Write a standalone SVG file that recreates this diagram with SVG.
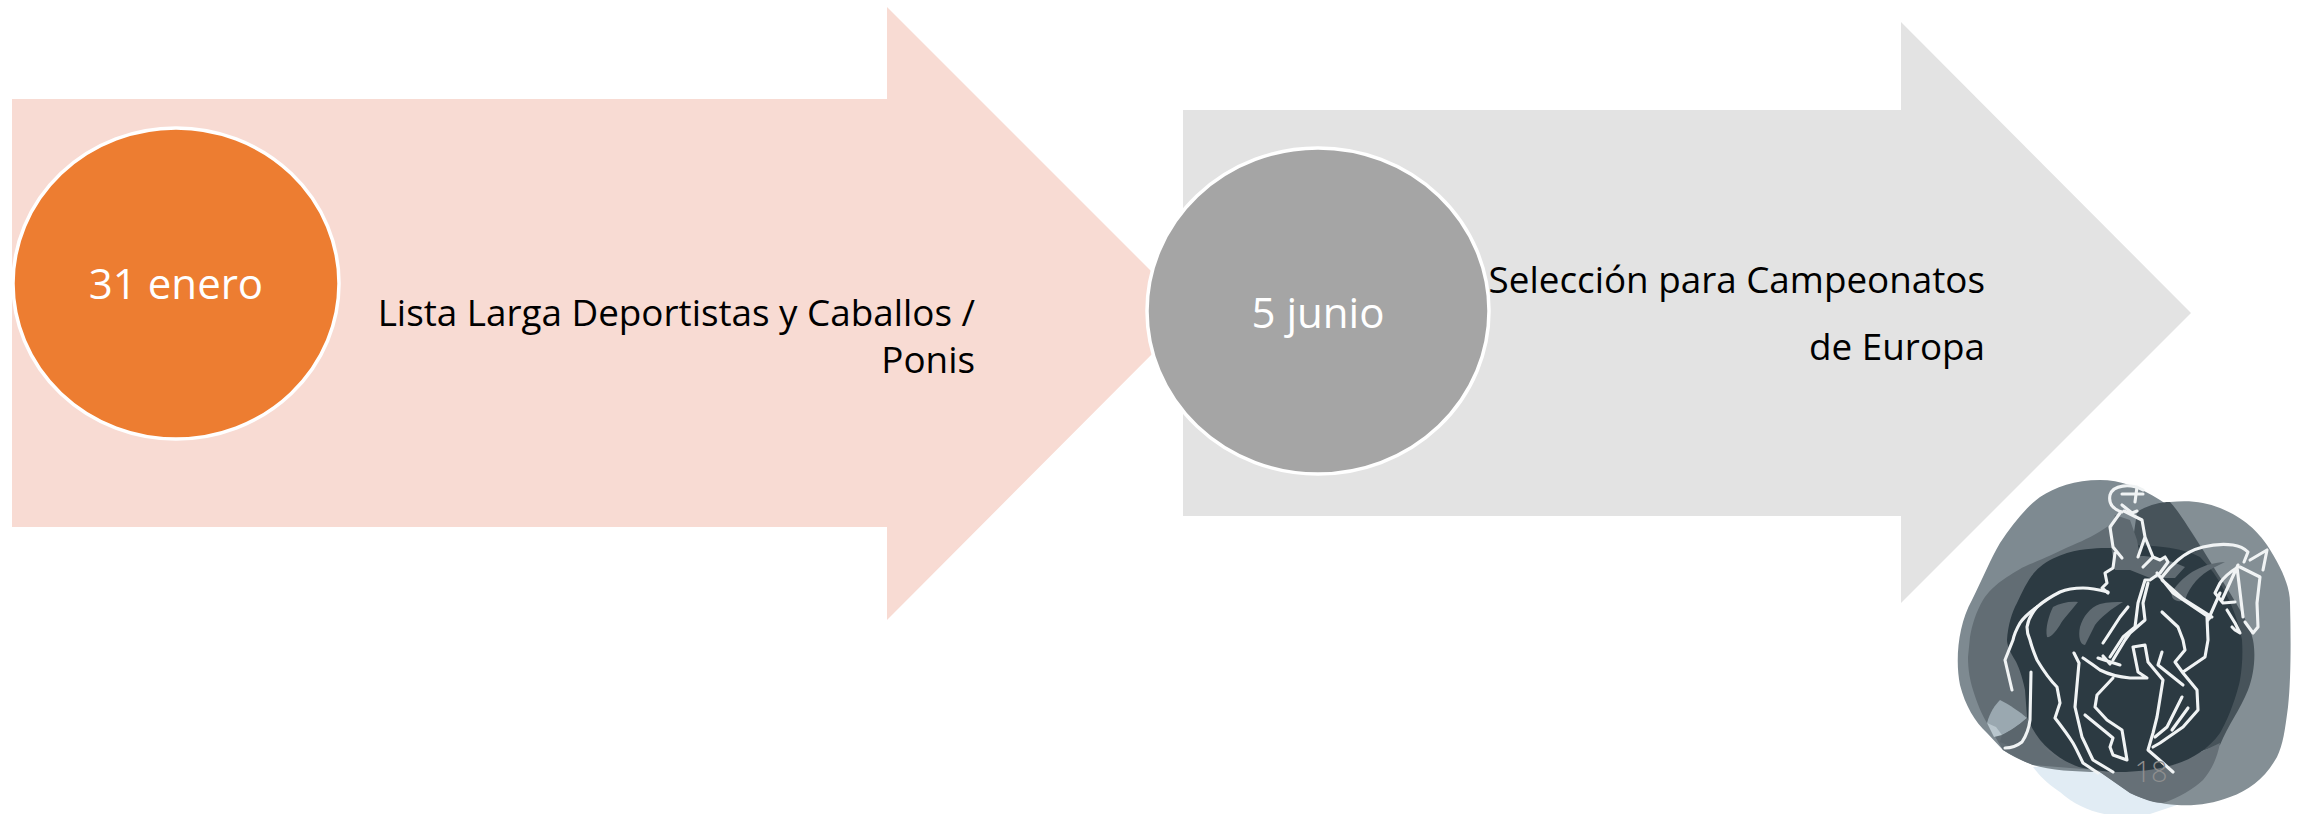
<svg xmlns="http://www.w3.org/2000/svg" width="2305" height="814" viewBox="0 0 2305 814">
<style>
text{font-family:"Open Sans","Noto Sans","Liberation Sans",sans-serif}
.d{fill:#fff;font-size:42px;text-anchor:middle}
.t{fill:#000;font-size:36.8px;text-anchor:end}
.c{stroke:#fff;stroke-width:3.5}
.h{fill:none;stroke:#f0f3f4;stroke-width:3.1;stroke-linecap:round;stroke-linejoin:round}
.m{fill:#5f6a71}
</style>
<rect width="2305" height="814" fill="#fff"/>
<g id="arrow-1"><path d="M12,99H887V7L1193,313L887,620V527H12Z" fill="#f8dbd3"/></g>
<g id="arrow-2"><path d="M1183,110H1901V22L2191,313L1901,603V516H1183Z" fill="#e3e3e3"/></g>
<g id="node-1">
<ellipse class="c" cx="176" cy="283.5" rx="163" ry="155.5" fill="#ed7d31"/>
<text class="d" x="176" y="299">31 enero</text>
<text class="t" x="975" y="326">Lista Larga Deportistas y Caballos /</text>
<text class="t" x="975" y="373">Ponis</text>
</g>
<g id="node-2">
<ellipse class="c" cx="1318" cy="311" rx="171" ry="163" fill="#a5a5a5"/>
<text class="d" x="1318" y="328">5 junio</text>
<text class="t" x="1985" y="293">Selección para Campeonatos</text>
<text class="t" x="1985" y="360">de Europa</text>
</g>
<g id="logo">
<path fill="#e1ecf4" d="M2033,767C2043,780 2050,785 2060,792C2075,805 2090,812 2110,815H2147L2177,805L2120,760Z"/>
<path fill="#848f95" d="M2170,502C2190,500 2205,502 2220,508C2245,518 2258,532 2267,545C2280,565 2290,585 2290,603C2291,640 2291,680 2288,707C2285,730 2283,745 2277,757C2265,778 2250,790 2230,797C2212,804 2195,806 2177,805C2160,804 2145,800 2130,793L2097,770L2050,740L2120,560Z"/>
<path fill="#7e8a91" d="M2100,480C2120,480 2140,487 2160,500C2175,510 2187,522 2203,550C2215,570 2230,590 2240,620L2245,660L2215,745L2173,768L2100,772C2075,772 2050,770 2033,765C2020,760 2010,755 2003,750L1987,733C1975,722 1965,705 1960,685C1955,660 1958,625 1972,600C1982,580 1990,560 2000,543C2012,525 2025,508 2040,497C2055,487 2075,480 2100,480Z"/>
<path fill="#626d74" d="M2110,525C2095,535 2085,540 2073,545C2055,553 2045,558 2033,563C2022,567 2015,572 2007,577C1995,585 1988,592 1983,600C1976,612 1972,625 1970,637L1968,657C1968,670 1970,680 1973,690C1977,703 1982,715 1987,723L2003,750C2015,757 2025,762 2033,765L2120,772L2140,620Z"/>
<path fill="#47535a" d="M2137,512C2148,505 2160,502 2170,502C2178,510 2190,530 2203,550C2215,570 2222,580 2230,593C2240,610 2250,625 2253,640C2256,655 2254,675 2248,690C2240,710 2228,725 2220,745L2150,768L2130,560Z"/>
<path fill="#667077" d="M2040,745C2060,755 2080,768 2097,770L2130,793C2145,800 2155,803 2163,803C2178,798 2195,788 2203,780C2210,772 2217,760 2220,743L2173,765L2060,760Z"/>
<path fill="#2c3a42" d="M2067,553C2085,548 2100,548 2110,548C2125,544 2145,545 2163,547C2180,549 2190,552 2200,557C2210,567 2218,578 2224,590C2232,605 2238,620 2242,640C2243,655 2242,668 2240,680C2237,695 2228,720 2220,733C2208,750 2190,760 2173,765C2155,770 2135,772 2120,772C2105,772 2095,770 2083,768C2070,765 2058,757 2050,750C2040,742 2032,730 2027,717L2025,690C2022,675 2018,665 2015,660C2010,652 2007,645 2007,640C2008,625 2012,612 2017,603C2024,588 2030,575 2040,567C2048,560 2058,556 2067,553Z"/>
<path class="m" d="M2115,515L2130,520L2137,540L2140,556C2150,556 2165,558 2185,567L2175,578L2150,578L2130,570L2115,570L2110,540Z"/>
<path class="m" d="M2053,607C2060,603 2070,601 2078,602C2072,610 2062,620 2060,625C2055,633 2050,638 2047,637C2045,628 2049,615 2053,607Z"/>
<path class="m" d="M2080,627C2083,617 2090,607 2100,604C2108,602 2116,602 2123,602C2112,608 2100,618 2095,625L2085,645C2080,645 2078,636 2080,627Z"/>
<path class="m" d="M2172,592C2185,572 2205,563 2225,562L2213,568C2200,575 2190,585 2185,600C2178,603 2170,600 2172,592Z"/>
<path fill="#9aa8b0" d="M1987,723C1990,712 1995,705 2000,700C2010,705 2020,712 2027,718C2018,726 2010,731 2002,735Z"/>
<path fill="#b9c6cd" d="M1987,723L1994,737L2002,735L1996,727Z"/>
<path fill="#5b666d" d="M2002,735C2010,731 2018,726 2027,718L2029,733L2013,747L2000,742Z"/>
<g class="h">
<path d="M2143,490C2130,483 2113,485 2110,495C2108,505 2115,510 2122,512M2122,505L2132,513L2137,511"/>
<path d="M2122,494L2143,494M2137,487L2135,502"/>
<path d="M2120,513L2110,527L2113,547L2122,558M2115,553L2113,568L2105,573L2107,583L2102,588L2108,593"/>
<path d="M2124,511L2142,520L2145,537L2138,557M2145,537L2153,557L2160,560L2165,557L2168,562L2160,573L2150,580L2145,580L2138,603L2135,627L2123,637L2110,657"/>
<path d="M2153,557L2143,567M2148,583L2143,603L2145,620L2130,633L2125,640L2113,660M2128,607L2120,617L2107,637L2103,643"/>
<path d="M2157,573L2173,593L2210,618M2162,580L2182,598L2212,617M2220,593L2208,620M2207,617L2208,640L2205,657L2183,672"/>
<path d="M2162,577C2168,569 2172,565 2178,560C2186,553 2195,549 2203,547C2215,544 2225,544 2233,545C2240,546 2245,549 2248,552L2244,562"/>
<path d="M2250,560L2267,550L2263,570M2240,567L2260,577L2257,603L2258,627L2253,633L2245,622"/>
<path d="M2238,567C2230,572 2224,577 2220,583L2215,593L2223,603L2235,602M2238,565L2222,600M2237,567L2243,617M2227,610L2235,623L2240,633L2235,630L2232,627"/>
<path d="M2108,592C2100,590 2092,588 2083,588C2075,588 2067,589 2060,592C2052,596 2044,601 2037,607C2030,612 2024,617 2020,623C2016,630 2014,635 2013,640L2005,660L2012,690"/>
<path d="M2037,607C2031,614 2028,620 2027,627C2027,632 2028,636 2030,640C2032,648 2035,655 2037,660C2043,670 2050,680 2057,687L2060,703L2055,718C2062,727 2068,735 2073,743C2077,750 2080,757 2083,763L2098,773"/>
<path d="M2031,672L2030,720C2029,728 2026,736 2022,742C2017,746 2011,748 2005,748"/>
<path d="M2074,653L2079,663L2075,707L2082,737C2086,745 2089,752 2093,760L2113,772"/>
<path d="M2083,658C2088,661 2094,666 2100,670C2108,674 2118,677 2130,678H2147L2138,672L2133,647L2145,645L2148,662L2163,680L2157,717L2153,733L2148,750L2163,763L2173,772"/>
<path d="M2098,658L2120,665M2103,656L2110,664"/>
<path d="M2113,678L2097,695L2095,707L2107,720L2122,730L2127,760L2113,755L2110,747L2113,738L2107,733L2085,715"/>
<path d="M2162,612L2178,627L2183,640L2185,650L2175,662L2183,673L2197,690L2198,710L2183,727L2160,743L2153,747"/>
<path d="M2162,652L2158,665L2183,685M2182,697L2167,727L2155,737M2188,708L2172,730"/>
</g>
</g>
<g id="page-number"><text x="2151" y="782" fill="#8f8f8f" font-size="29" font-weight="300" text-anchor="middle">18</text></g>
</svg>
